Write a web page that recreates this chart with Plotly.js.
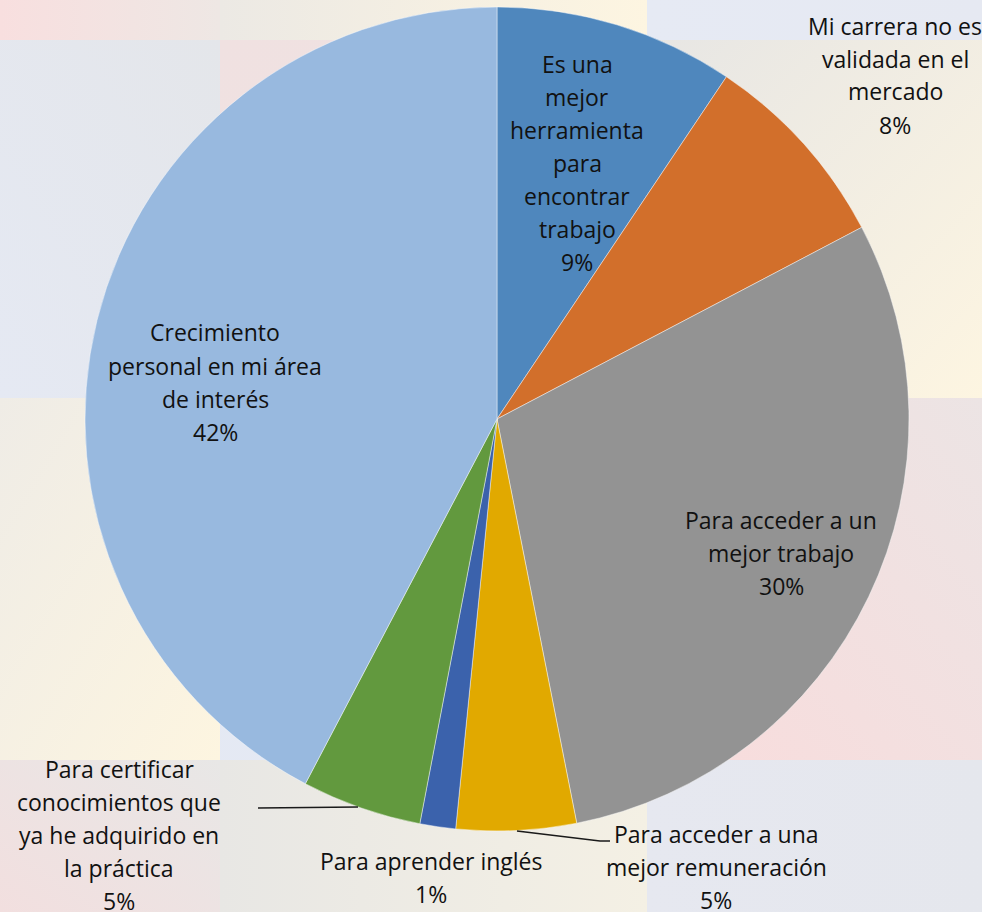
<!DOCTYPE html>
<html>
<head>
<meta charset="utf-8">
<script src="https://cdn.plot.ly/plotly-3.0.1.min.js"></script>
<style>html,body{margin:0;padding:0;background:#fff;}#chart{width:982px;height:912px;}</style>
</head>
<body>
<div id="chart"></div>
<script>
// ---- data ----
const categories = [
  "Es una mejor herramienta para encontrar trabajo",
  "Mi carrera no es validada en el mercado",
  "Para acceder a un mejor trabajo",
  "Para acceder a una mejor remuneración",
  "Para aprender inglés",
  "Para certificar conocimientos que ya he adquirido en la práctica",
  "Crecimiento personal en mi área de interés"
];
const values = [9.4, 7.9, 29.6, 4.7, 1.4, 4.7, 42.3];
const labelLines = [
  ["Es una", "mejor", "herramienta", "para", "encontrar", "trabajo"],
  ["Mi carrera no es", "validada en el", "mercado"],
  ["Para acceder a un", "mejor trabajo"],
  ["Para acceder a una", "mejor remuneración"],
  ["Para aprender inglés"],
  ["Para certificar", "conocimientos que", "ya he adquirido en", "la práctica"],
  ["Crecimiento", "personal en mi área", "de interés"]
];
const sliceColors = ["#4F87BD", "#D26F2B", "#939393", "#E1A900", "#3B62AC", "#62993E", "#98B9DF"];

// ---- layout helpers ----
const W = 982, H = 912;
const px = x => x / W;
const py = y => 1 - y / H;

// label centres (pixels) and line spacing
const labelPos = [[577, 163], [895, 75], [781, 553], [716, 867], [431, 877], [119, 835], [215, 382]];
const lineGap = 33;
const labelFont = {family: "'Open Sans', 'Noto Sans', sans-serif", size: 23, color: "#111"};

const total = values.reduce((a, b) => a + b, 0);
const annotations = [];
categories.forEach((c, i) => {
  const lines = labelLines[i].concat([Math.round(values[i] / total * 100) + "%"]);
  const n = lines.length;
  lines.forEach((t, k) => {
    const y = labelPos[i][1] + (k - (n - 1) / 2) * lineGap;
    annotations.push({
      xref: "paper", yref: "paper", x: px(labelPos[i][0]), y: py(y),
      xanchor: "center", yanchor: "middle", showarrow: false, text: t,
      font: labelFont
    });
  });
});

// background patchwork (decorative, gradient cells) as an SVG image
const cols = [0, 220, 647, 982];
const rows = [0, 40, 398, 760, 912];
const bgCells = [
  [["#f8dfdf", "#eee7e4", 0, 0, 1, 0], ["#ece9e4", "#fdf5e1", 0, 0, 1, 0], ["#e6eaf4", "#e6e9f2", 0, 0, 1, 0]],
  [["#e4e6ea", "#e5e9f3", 1, 0, 0, 1], ["#f0e1e1", "#efe3e2", 0, 0, 1, 1], ["#e7e6e4", "#fdf5e1", 0, 0, 1, 1]],
  [["#efece6", "#fdf5e0", 0, 0, 1, 1], ["#e4e9f4", "#e5e9f3", 0, 0, 1, 1], ["#ece4e4", "#f9dcdc", 1, 0, 0, 1]],
  [["#f2dfdf", "#e8e7e6", 0, 1, 1, 0], ["#e8e7e4", "#f4f0e4", 0, 0, 1, 0], ["#e6e8f0", "#e5e7ed", 0, 0, 1, 0]]
];
let defs = "", rects = "";
for (let r = 0; r < 4; r++) for (let c = 0; c < 3; c++) {
  const g = bgCells[r][c], id = `g${r}${c}`;
  defs += `<linearGradient id="${id}" x1="${g[2]}" y1="${g[3]}" x2="${g[4]}" y2="${g[5]}"><stop offset="0" stop-color="${g[0]}"/><stop offset="1" stop-color="${g[1]}"/></linearGradient>`;
  rects += `<rect x="${cols[c]}" y="${rows[r]}" width="${cols[c + 1] - cols[c]}" height="${rows[r + 1] - rows[r]}" fill="url(#${id})"/>`;
}
const bgSvg = `<svg xmlns="http://www.w3.org/2000/svg" width="${W}" height="${H}" viewBox="0 0 ${W} ${H}" preserveAspectRatio="none"><defs>${defs}</defs>${rects}</svg>`;
const bgUri = "data:image/svg+xml;charset=utf-8," + encodeURIComponent(bgSvg);

const shapes = [];
// leader lines
shapes.push({type: "path", xref: "paper", yref: "paper", layer: "above",
  path: `M ${px(258)} ${py(808)} L ${px(358)} ${py(807)}`, line: {color: "#1a1a1a", width: 1.3}});
shapes.push({type: "path", xref: "paper", yref: "paper", layer: "above",
  path: `M ${px(517)} ${py(831)} L ${px(600)} ${py(841)} L ${px(610)} ${py(841)}`, line: {color: "#1a1a1a", width: 1.3}});

const trace = {
  type: "pie",
  labels: categories,
  values: values,
  sort: false,
  direction: "clockwise",
  rotation: 0,
  textinfo: "none",
  hoverinfo: "label+percent",
  marker: {colors: sliceColors, line: {color: "rgba(255,255,255,0.55)", width: 0.8}},
  domain: {x: [px(85), px(909)], y: [py(831), py(7)]},
  showlegend: false
};

const layout = {
  width: W, height: H,
  margin: {l: 0, r: 0, t: 0, b: 0},
  paper_bgcolor: "#f2eee6",
  showlegend: false,
  images: [{source: bgUri, xref: "paper", yref: "paper", x: 0, y: 1, sizex: 1, sizey: 1,
    xanchor: "left", yanchor: "top", sizing: "stretch", layer: "below"}],
  shapes: shapes,
  annotations: annotations
};

Plotly.newPlot("chart", [trace], layout, {displayModeBar: false, staticPlot: true});
</script>
</body>
</html>
